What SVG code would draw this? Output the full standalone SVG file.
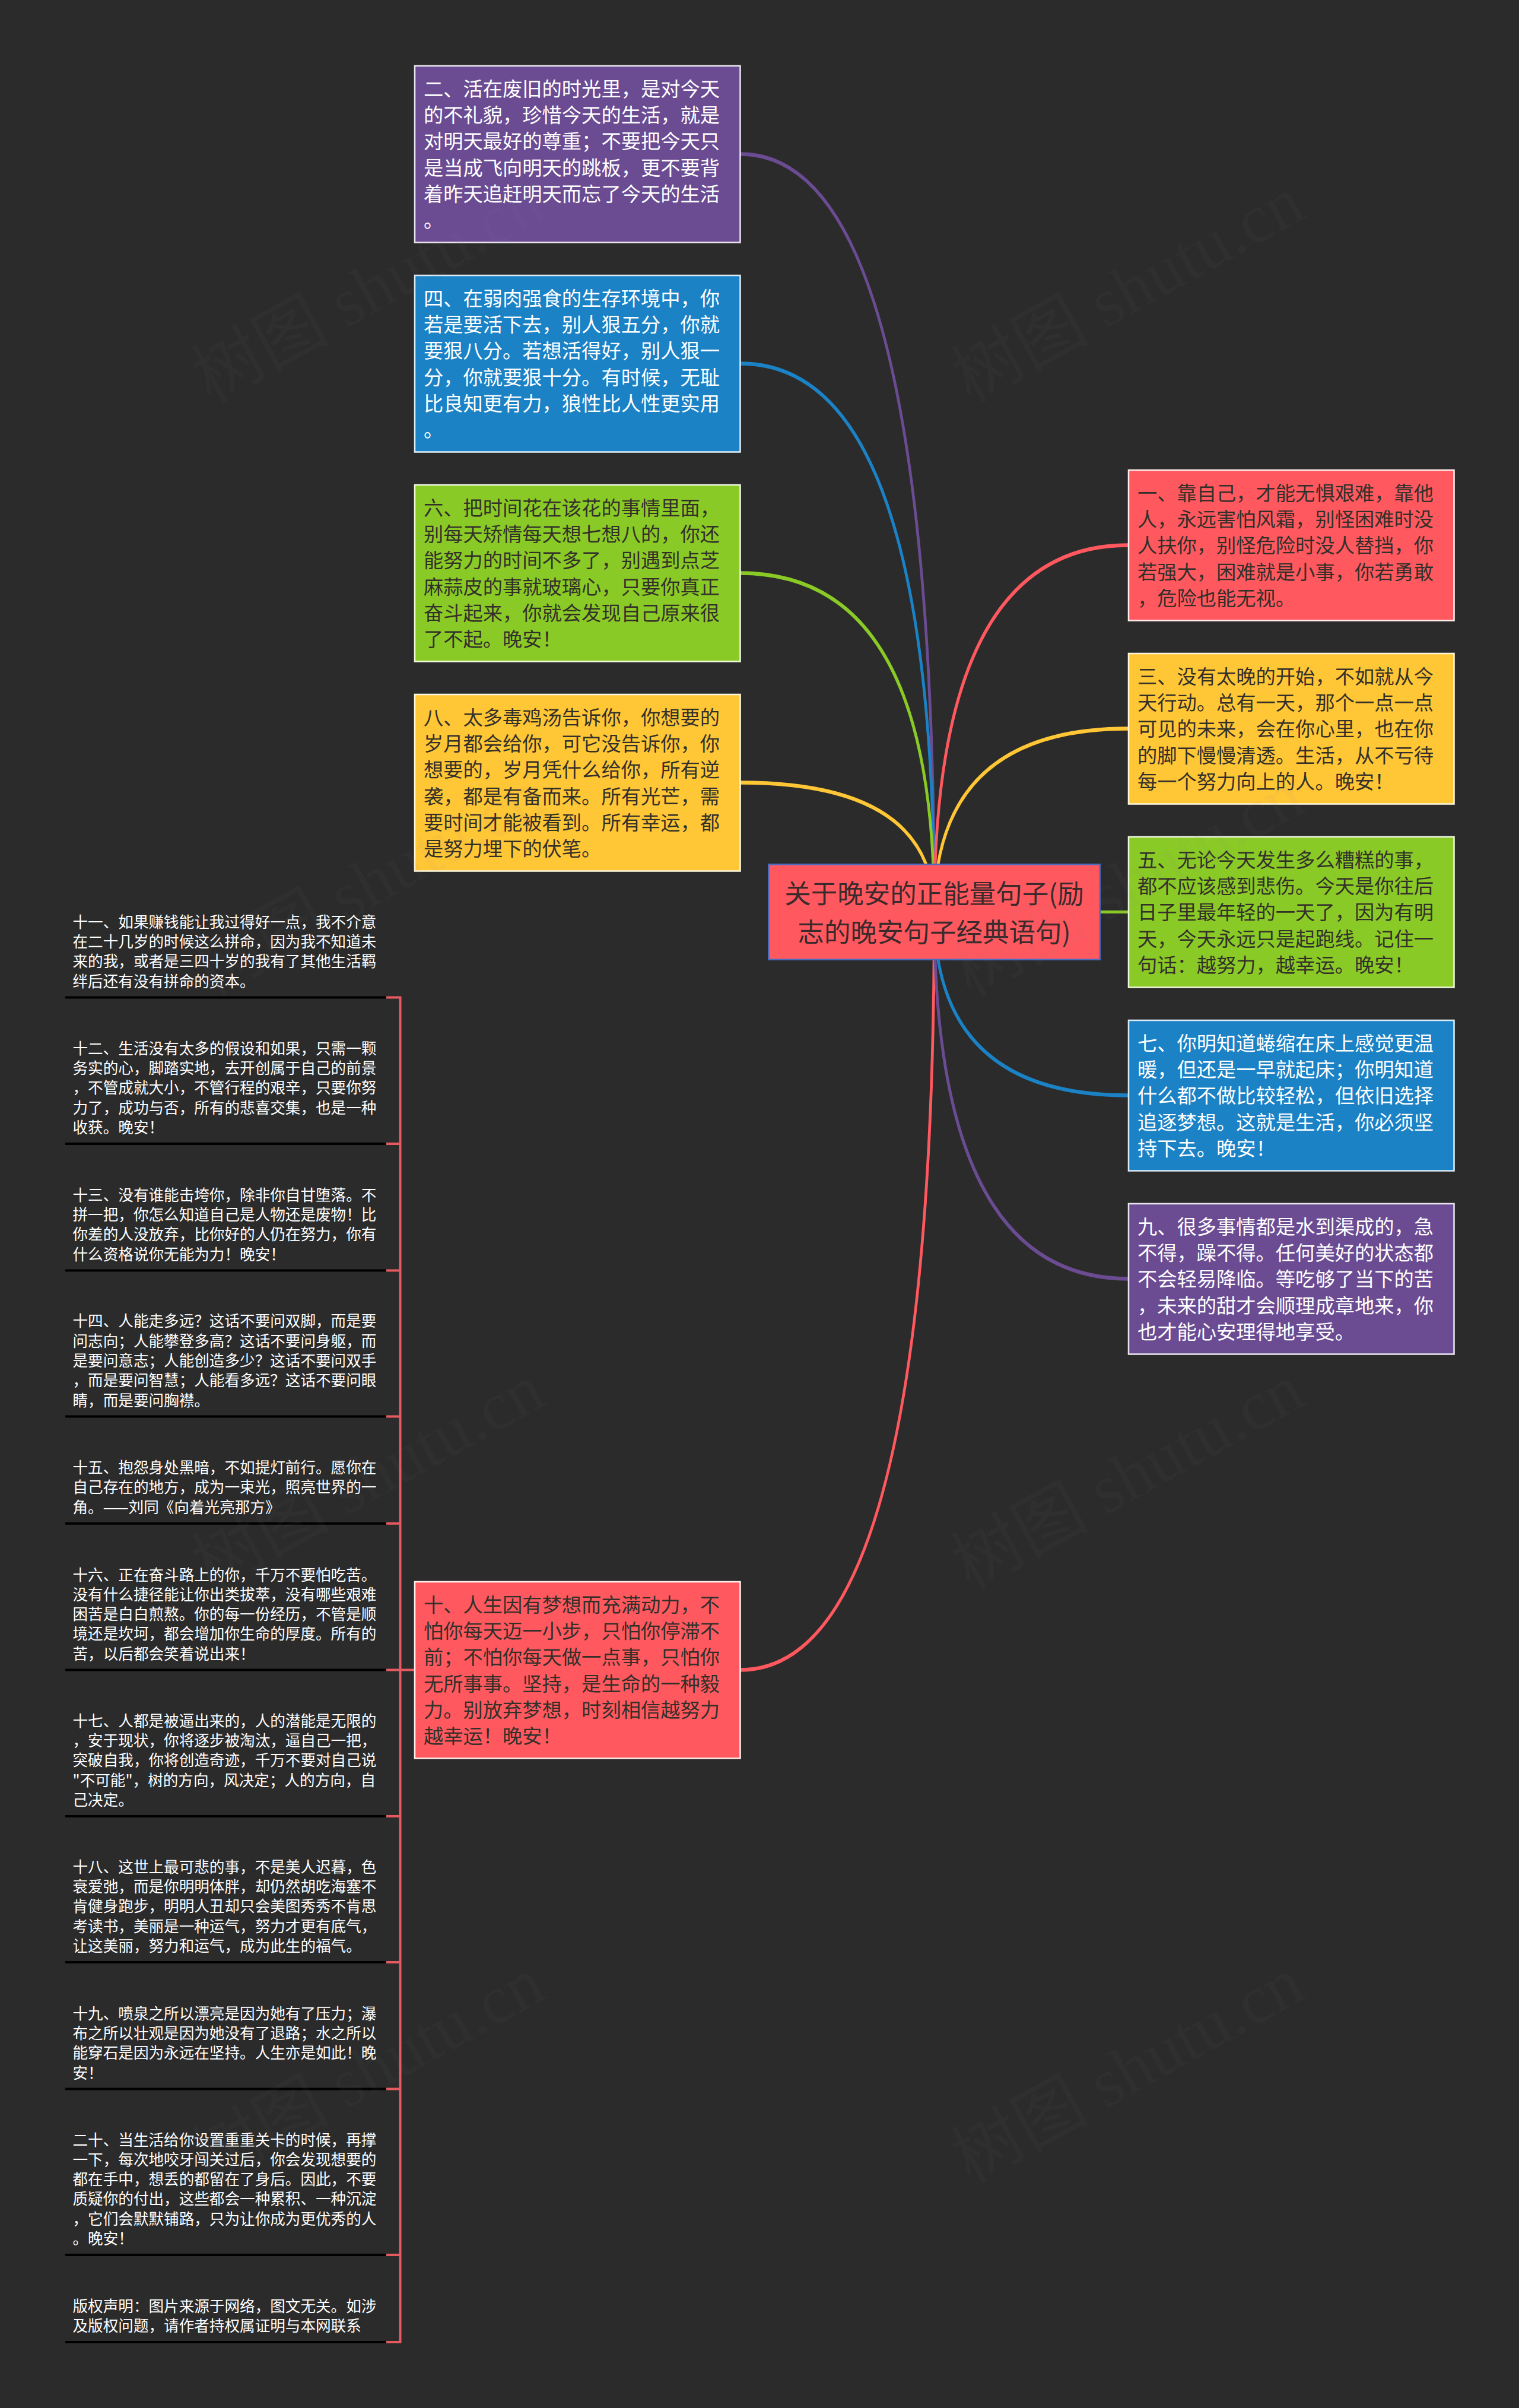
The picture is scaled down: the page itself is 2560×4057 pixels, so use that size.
<svg xmlns="http://www.w3.org/2000/svg" width="2560" height="4057" viewBox="0 0 2560 4057">
<style>
text{font-family:"Noto Sans CJK SC","Noto Sans",sans-serif}
.b{font-size:33.28px}
.s{font-size:25.6px;fill:#fff}
.r{font-size:44.5px;fill:#3a2a2c;text-anchor:middle}
.d{fill:#33302a}
.l{fill:#fff}
.box{stroke-width:2.56}
.red{fill:#ff585f}.yel{fill:#ffc636}.grn{fill:#8aca26}.blu{fill:#1b82c6}.pur{fill:#6b4c93}
.rule{stroke:#000;stroke-width:4;fill:none}
.brk{stroke:#e85a61;stroke-width:4;fill:none}
.wm{font-family:"Liberation Serif","Noto Sans CJK SC",serif;font-size:116px;fill:#888;fill-opacity:.05}
</style>
<rect width="2560" height="4057" fill="#2b2b2b"/>
<g id="connectors">
<path class="pur" d="M1248 256.300Q1576.900 256.300 1576.900 1536.500L1572.100 1536.500Q1572.100 262.700 1248 262.700Z"/>
<path class="blu" d="M1248 609.300Q1576.900 609.300 1576.900 1536.500L1572.100 1536.500Q1572.100 615.700 1248 615.700Z"/>
<path class="grn" d="M1248 962.300Q1576.900 962.300 1576.900 1536.500L1572.100 1536.500Q1572.100 968.700 1248 968.700Z"/>
<path class="yel" d="M1248 1315.300Q1576.900 1315.300 1576.900 1536.500L1572.100 1536.500Q1572.100 1321.700 1248 1321.700Z"/>
<path class="red" d="M1248 2816.700Q1576.900 2816.700 1576.900 1536.500L1572.100 1536.500Q1572.100 2810.300 1248 2810.300Z"/>
<path class="red" d="M1901 915.300Q1572.100 915.300 1572.100 1536.500L1576.900 1536.500Q1576.900 921.700 1901 921.700Z"/>
<path class="yel" d="M1901 1224.300Q1572.100 1224.300 1572.100 1536.500L1576.900 1536.500Q1576.900 1230.700 1901 1230.700Z"/>
<path class="grn" d="M1850 1534H1901V1539H1850Z"/>
<path class="blu" d="M1901 1848.700Q1572.100 1848.700 1572.100 1536.500L1576.900 1536.500Q1576.900 1842.300 1901 1842.300Z"/>
<path class="pur" d="M1901 2157.700Q1572.100 2157.700 1572.100 1536.500L1576.900 1536.500Q1576.900 2151.300 1901 2151.300Z"/>
<path class="brk" d="M651 1680.600H674.500V3946H651M651 1927H674.500M651 2140.600H674.500M651 2386.500H674.500M651 2566.700H674.500M651 2813.600H698M651 3060H674.500M651 3306H674.500M651 3519.600H674.500M651 3799H674.500"/>
</g>
<g id="root"><rect class="box red" x="1295.300" y="1456.300" width="558.400" height="160.400" stroke="#4a6cc0"/>
<text class="r" x="1574.500" y="1522">关于晚安的正能量句子(励<tspan x="1574.500" dy="65.280">志的晚安句子经典语句)</tspan></text></g>
<g id="n2"><rect class="box pur" x="699" y="111" width="548.500" height="297.500" stroke="#e8e4ee"/>
<text class="b l" x="714" y="162">二、活在废旧的时光里，是对今天<tspan x="714" dy="44.2">的不礼貌，珍惜今天的生活，就是</tspan><tspan x="714" dy="44.2">对明天最好的尊重；不要把今天只</tspan><tspan x="714" dy="44.2">是当成飞向明天的跳板，更不要背</tspan><tspan x="714" dy="44.2">着昨天追赶明天而忘了今天的生活</tspan><tspan x="714" dy="44.2">。</tspan></text></g>
<g id="n4"><rect class="box blu" x="699" y="464" width="548.500" height="297.500" stroke="#dcecf6"/>
<text class="b l" x="714" y="515">四、在弱肉强食的生存环境中，你<tspan x="714" dy="44.2">若是要活下去，别人狠五分，你就</tspan><tspan x="714" dy="44.2">要狠八分。若想活得好，别人狠一</tspan><tspan x="714" dy="44.2">分，你就要狠十分。有时候，无耻</tspan><tspan x="714" dy="44.2">比良知更有力，狼性比人性更实用</tspan><tspan x="714" dy="44.2">。</tspan></text></g>
<g id="n6"><rect class="box grn" x="699" y="817" width="548.500" height="297.500" stroke="#eef6dc"/>
<text class="b d" x="714" y="868">六、把时间花在该花的事情里面，<tspan x="714" dy="44.2">别每天矫情每天想七想八的，你还</tspan><tspan x="714" dy="44.2">能努力的时间不多了，别遇到点芝</tspan><tspan x="714" dy="44.2">麻蒜皮的事就玻璃心，只要你真正</tspan><tspan x="714" dy="44.2">奋斗起来，你就会发现自己原来很</tspan><tspan x="714" dy="44.2">了不起。晚安！</tspan></text></g>
<g id="n8"><rect class="box yel" x="699" y="1170" width="548.500" height="297.500" stroke="#fff6dc"/>
<text class="b d" x="714" y="1221">八、太多毒鸡汤告诉你，你想要的<tspan x="714" dy="44.2">岁月都会给你，可它没告诉你，你</tspan><tspan x="714" dy="44.2">想要的，岁月凭什么给你，所有逆</tspan><tspan x="714" dy="44.2">袭，都是有备而来。所有光芒，需</tspan><tspan x="714" dy="44.2">要时间才能被看到。所有幸运，都</tspan><tspan x="714" dy="44.2">是努力埋下的伏笔。</tspan></text></g>
<g id="n10"><rect class="box red" x="699" y="2665" width="548.500" height="297.500" stroke="#ffecec"/>
<text class="b d" x="714" y="2716">十、人生因有梦想而充满动力，不<tspan x="714" dy="44.2">怕你每天迈一小步，只怕你停滞不</tspan><tspan x="714" dy="44.2">前；不怕你每天做一点事，只怕你</tspan><tspan x="714" dy="44.2">无所事事。坚持，是生命的一种毅</tspan><tspan x="714" dy="44.2">力。别放弃梦想，时刻相信越努力</tspan><tspan x="714" dy="44.2">越幸运！晚安！</tspan></text></g>
<g id="n1"><rect class="box red" x="1902" y="792" width="548.500" height="253.500" stroke="#ffecec"/>
<text class="b d" x="1917" y="843">一、靠自己，才能无惧艰难，靠他<tspan x="1917" dy="44.2">人，永远害怕风霜，别怪困难时没</tspan><tspan x="1917" dy="44.2">人扶你，别怪危险时没人替挡，你</tspan><tspan x="1917" dy="44.2">若强大，困难就是小事，你若勇敢</tspan><tspan x="1917" dy="44.2">，危险也能无视。</tspan></text></g>
<g id="n3"><rect class="box yel" x="1902" y="1101" width="548.500" height="253.500" stroke="#fff6dc"/>
<text class="b d" x="1917" y="1152">三、没有太晚的开始，不如就从今<tspan x="1917" dy="44.2">天行动。总有一天，那个一点一点</tspan><tspan x="1917" dy="44.2">可见的未来，会在你心里，也在你</tspan><tspan x="1917" dy="44.2">的脚下慢慢清透。生活，从不亏待</tspan><tspan x="1917" dy="44.2">每一个努力向上的人。晚安！</tspan></text></g>
<g id="n5"><rect class="box grn" x="1902" y="1410" width="548.500" height="253.500" stroke="#eef6dc"/>
<text class="b d" x="1917" y="1461">五、无论今天发生多么糟糕的事，<tspan x="1917" dy="44.2">都不应该感到悲伤。今天是你往后</tspan><tspan x="1917" dy="44.2">日子里最年轻的一天了，因为有明</tspan><tspan x="1917" dy="44.2">天，今天永远只是起跑线。记住一</tspan><tspan x="1917" dy="44.2">句话：越努力，越幸运。晚安！</tspan></text></g>
<g id="n7"><rect class="box blu" x="1902" y="1719" width="548.500" height="253.500" stroke="#dcecf6"/>
<text class="b l" x="1917" y="1770">七、你明知道蜷缩在床上感觉更温<tspan x="1917" dy="44.2">暖，但还是一早就起床；你明知道</tspan><tspan x="1917" dy="44.2">什么都不做比较轻松，但依旧选择</tspan><tspan x="1917" dy="44.2">追逐梦想。这就是生活，你必须坚</tspan><tspan x="1917" dy="44.2">持下去。晚安！</tspan></text></g>
<g id="n9"><rect class="box pur" x="1902" y="2028" width="548.500" height="253.500" stroke="#e8e4ee"/>
<text class="b l" x="1917" y="2079">九、很多事情都是水到渠成的，急<tspan x="1917" dy="44.2">不得，躁不得。任何美好的状态都</tspan><tspan x="1917" dy="44.2">不会轻易降临。等吃够了当下的苦</tspan><tspan x="1917" dy="44.2">，未来的甜才会顺理成章地来，你</tspan><tspan x="1917" dy="44.2">也才能心安理得地享受。</tspan></text></g>
<g id="n11"><path class="rule" d="M110 1680.600H651"/><text class="s" x="122.500" y="1562.800">十一、如果赚钱能让我过得好一点，我不介意<tspan x="122.500" dy="33.28">在二十几岁的时候这么拼命，因为我不知道未</tspan><tspan x="122.500" dy="33.28">来的我，或者是三四十岁的我有了其他生活羁</tspan><tspan x="122.500" dy="33.28">绊后还有没有拼命的资本。</tspan></text></g>
<g id="n12"><path class="rule" d="M110 1927H651"/><text class="s" x="122.500" y="1775.900">十二、生活没有太多的假设和如果，只需一颗<tspan x="122.500" dy="33.28">务实的心，脚踏实地，去开创属于自己的前景</tspan><tspan x="122.500" dy="33.28">，不管成就大小，不管行程的艰辛，只要你努</tspan><tspan x="122.500" dy="33.28">力了，成功与否，所有的悲喜交集，也是一种</tspan><tspan x="122.500" dy="33.28">收获。晚安！</tspan></text></g>
<g id="n13"><path class="rule" d="M110 2140.600H651"/><text class="s" x="122.500" y="2022.800">十三、没有谁能击垮你，除非你自甘堕落。不<tspan x="122.500" dy="33.28">拼一把，你怎么知道自己是人物还是废物！比</tspan><tspan x="122.500" dy="33.28">你差的人没放弃，比你好的人仍在努力，你有</tspan><tspan x="122.500" dy="33.28">什么资格说你无能为力！晚安！</tspan></text></g>
<g id="n14"><path class="rule" d="M110 2386.500H651"/><text class="s" x="122.500" y="2235.400">十四、人能走多远？这话不要问双脚，而是要<tspan x="122.500" dy="33.28">问志向；人能攀登多高？这话不要问身躯，而</tspan><tspan x="122.500" dy="33.28">是要问意志；人能创造多少？这话不要问双手</tspan><tspan x="122.500" dy="33.28">，而是要问智慧；人能看多远？这话不要问眼</tspan><tspan x="122.500" dy="33.28">睛，而是要问胸襟。</tspan></text></g>
<g id="n15"><path class="rule" d="M110 2566.700H651"/><text class="s" x="122.500" y="2482.100">十五、抱怨身处黑暗，不如提灯前行。愿你在<tspan x="122.500" dy="33.28">自己存在的地方，成为一束光，照亮世界的一</tspan><tspan x="122.500" dy="33.28">角。——刘同《向着光亮那方》</tspan></text></g>
<g id="n16"><path class="rule" d="M110 2813.600H651"/><text class="s" x="122.500" y="2662.500">十六、正在奋斗路上的你，千万不要怕吃苦。<tspan x="122.500" dy="33.28">没有什么捷径能让你出类拔萃，没有哪些艰难</tspan><tspan x="122.500" dy="33.28">困苦是白白煎熬。你的每一份经历，不管是顺</tspan><tspan x="122.500" dy="33.28">境还是坎坷，都会增加你生命的厚度。所有的</tspan><tspan x="122.500" dy="33.28">苦，以后都会笑着说出来！</tspan></text></g>
<g id="n17"><path class="rule" d="M110 3060H651"/><text class="s" x="122.500" y="2908.900">十七、人都是被逼出来的，人的潜能是无限的<tspan x="122.500" dy="33.28">，安于现状，你将逐步被淘汰，逼自己一把，</tspan><tspan x="122.500" dy="33.28">突破自我，你将创造奇迹，千万不要对自己说</tspan><tspan x="122.500" dy="33.28">"不可能"，树的方向，风决定；人的方向，自</tspan><tspan x="122.500" dy="33.28">己决定。</tspan></text></g>
<g id="n18"><path class="rule" d="M110 3306H651"/><text class="s" x="122.500" y="3154.900">十八、这世上最可悲的事，不是美人迟暮，色<tspan x="122.500" dy="33.28">衰爱弛，而是你明明体胖，却仍然胡吃海塞不</tspan><tspan x="122.500" dy="33.28">肯健身跑步，明明人丑却只会美图秀秀不肯思</tspan><tspan x="122.500" dy="33.28">考读书，美丽是一种运气，努力才更有底气，</tspan><tspan x="122.500" dy="33.28">让这美丽，努力和运气，成为此生的福气。</tspan></text></g>
<g id="n19"><path class="rule" d="M110 3519.600H651"/><text class="s" x="122.500" y="3401.800">十九、喷泉之所以漂亮是因为她有了压力；瀑<tspan x="122.500" dy="33.28">布之所以壮观是因为她没有了退路；水之所以</tspan><tspan x="122.500" dy="33.28">能穿石是因为永远在坚持。人生亦是如此！晚</tspan><tspan x="122.500" dy="33.28">安！</tspan></text></g>
<g id="n20"><path class="rule" d="M110 3799H651"/><text class="s" x="122.500" y="3614.600">二十、当生活给你设置重重关卡的时候，再撑<tspan x="122.500" dy="33.28">一下，每次地咬牙闯关过后，你会发现想要的</tspan><tspan x="122.500" dy="33.28">都在手中，想丢的都留在了身后。因此，不要</tspan><tspan x="122.500" dy="33.28">质疑你的付出，这些都会一种累积、一种沉淀</tspan><tspan x="122.500" dy="33.28">，它们会默默铺路，只为让你成为更优秀的人</tspan><tspan x="122.500" dy="33.28">。晚安！</tspan></text></g>
<g id="n21"><path class="rule" d="M110 3946H651"/><text class="s" x="122.500" y="3894.700">版权声明：图片来源于网络，图文无关。如涉<tspan x="122.500" dy="33.28">及版权问题，请作者持权属证明与本网联系</tspan></text></g>
<g id="watermark">
<text class="wm" transform="translate(355 680) rotate(-29)">树图 shutu.cn</text>
<text class="wm" transform="translate(1635 680) rotate(-29)">树图 shutu.cn</text>
<text class="wm" transform="translate(355 1680) rotate(-29)">树图 shutu.cn</text>
<text class="wm" transform="translate(1635 1680) rotate(-29)">树图 shutu.cn</text>
<text class="wm" transform="translate(355 2680) rotate(-29)">树图 shutu.cn</text>
<text class="wm" transform="translate(1635 2680) rotate(-29)">树图 shutu.cn</text>
<text class="wm" transform="translate(355 3680) rotate(-29)">树图 shutu.cn</text>
<text class="wm" transform="translate(1635 3680) rotate(-29)">树图 shutu.cn</text>
</g>
</svg>
